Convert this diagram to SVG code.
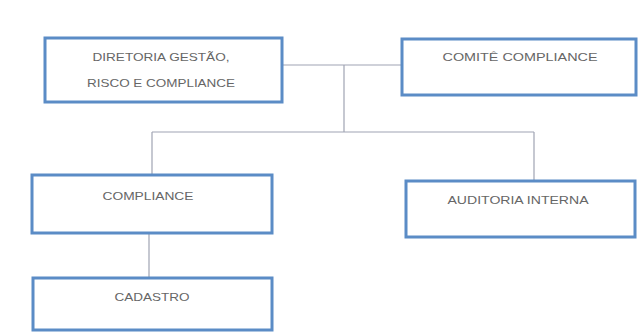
<svg xmlns="http://www.w3.org/2000/svg" width="638" height="333" viewBox="0 0 638 333">
<style>
.box{fill:#ffffff;stroke:#5b8cc6;stroke-width:3}
.t{font-family:"Liberation Sans",Arial,sans-serif;font-size:10.5px;fill:#666666;text-anchor:middle}
.c{fill:none;stroke:#9fa3b3;stroke-width:1.2}
</style>
<rect width="638" height="333" fill="#ffffff"/>
<g id="connectors">
<path class="c" d="M282 65 H402"/>
<path class="c" d="M344 65 V132"/>
<path class="c" d="M152 132 H534"/>
<path class="c" d="M152 132 V175"/>
<path class="c" d="M534 132 V181"/>
<path class="c" d="M149 233 V278"/>
</g>
<g id="diretoria">
<rect class="box" x="45" y="38" width="237" height="64"/>
<text class="t" x="161" y="61" textLength="137" lengthAdjust="spacingAndGlyphs">DIRETORIA GESTÃO,</text>
<text class="t" x="161" y="87" textLength="148" lengthAdjust="spacingAndGlyphs">RISCO E COMPLIANCE</text>
</g>
<g id="comite">
<rect class="box" x="402" y="39" width="234" height="56"/>
<text class="t" x="520" y="61" textLength="155" lengthAdjust="spacingAndGlyphs">COMITÊ  COMPLIANCE</text>
</g>
<g id="compliance">
<rect class="box" x="32" y="175" width="240" height="58"/>
<text class="t" x="148" y="200" textLength="91" lengthAdjust="spacingAndGlyphs">COMPLIANCE</text>
</g>
<g id="auditoria">
<rect class="box" x="406" y="181" width="229" height="56"/>
<text class="t" x="518" y="204" textLength="141" lengthAdjust="spacingAndGlyphs">AUDITORIA INTERNA</text>
</g>
<g id="cadastro">
<rect class="box" x="33" y="278" width="239" height="52"/>
<text class="t" x="152" y="301" textLength="75" lengthAdjust="spacingAndGlyphs">CADASTRO</text>
</g>
</svg>
